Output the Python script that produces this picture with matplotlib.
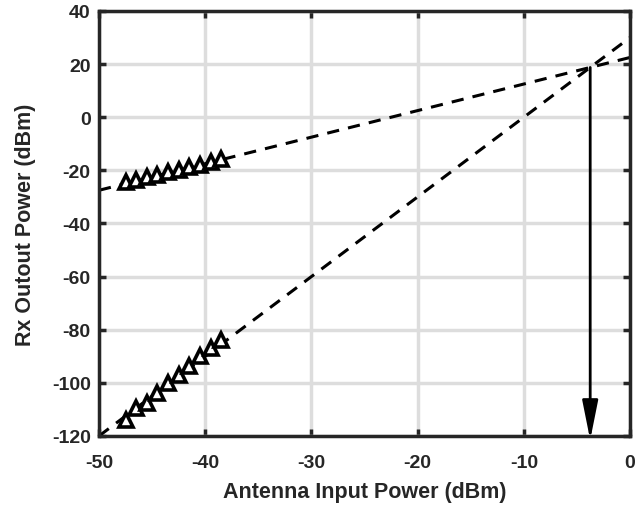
import numpy as np
import matplotlib.pyplot as plt

plt.rcParams['font.family'] = ['Liberation Sans', 'DejaVu Sans']
plt.rcParams['font.weight'] = 'bold'
plt.rcParams['axes.unicode_minus'] = False

# measured points
pin_fund = [-47.5, -46.5, -45.5, -44.5, -43.5, -42.5, -41.5, -40.5, -39.5, -38.5]
pout_fund = [-24.5, -23.5, -22.6, -21.8, -20.8, -19.8, -18.8, -17.8, -16.9, -15.8]
pin_im3 = [-47.5, -46.5, -45.5, -44.5, -43.5, -42.5, -41.5, -40.5, -39.5, -38.5]
pout_im3 = [-114.0, -109.5, -107.5, -104.0, -100.0, -97.0, -93.5, -90.0, -87.0, -84.0]

# fitted lines (slope, intercept)
fund_fit = (1.0, 22.5)
im3_fit = (3.0, 30.0)

xticks = [-50, -40, -30, -20, -10, 0]
yticks = [-120, -100, -80, -60, -40, -20, 0, 20, 40]

dark = '#262626'

fig = plt.figure(figsize=(6.44, 5.06), dpi=100)
ax = fig.add_axes([0.1537, 0.1364, 0.8246, 0.8399])

xs = np.array([-50, 0])
ax.plot(xs, fund_fit[0] * xs + fund_fit[1], 'k--', lw=2.2, dashes=(4, 3))
ax.plot(xs, im3_fit[0] * xs + im3_fit[1], 'k--', lw=2.2, dashes=(4, 3))

ax.plot(pin_fund, pout_fund, linestyle='none', marker='^', ms=10,
        mfc='white', mec='black', mew=2.6)
ax.plot(pin_im3, pout_im3, linestyle='none', marker='^', ms=10,
        mfc='white', mec='black', mew=2.6)

# IIP3 point
x_ip = (im3_fit[1] - fund_fit[1]) / (fund_fit[0] - im3_fit[0])
y_ip = fund_fit[0] * x_ip + fund_fit[1]
ax.annotate('', xy=(x_ip, -121.5), xytext=(x_ip, y_ip), annotation_clip=False,
            arrowprops=dict(arrowstyle='-|>,head_length=1.5,head_width=0.3',
                            color='black', lw=2, mutation_scale=16,
                            shrinkA=0, shrinkB=0))

ax.set_xlim(-50, 0)
ax.set_ylim(-120, 40)
ax.set_xticks(xticks)
ax.set_yticks(yticks)
ax.grid(True, color='#dddddd', lw=2.5)
ax.set_axisbelow(True)
for s in ax.spines.values():
    s.set_linewidth(2.5)
    s.set_color(dark)
ax.tick_params(direction='in', length=5, width=2.5, colors=dark,
               labelsize=14, top=True, right=True)
ax.tick_params(axis='x', pad=13)
ax.tick_params(axis='y', pad=6)
for lab in ax.get_xticklabels() + ax.get_yticklabels():
    lab.set_fontweight('bold')

ax.set_xlabel('Antenna Input Power (dBm)', fontsize=15.5, fontweight='bold', color=dark, labelpad=7)
ax.set_ylabel('Rx Outout Power (dBm)', fontsize=15.5, fontweight='bold', color=dark, labelpad=11)

fig.savefig('out.png', dpi=100)
